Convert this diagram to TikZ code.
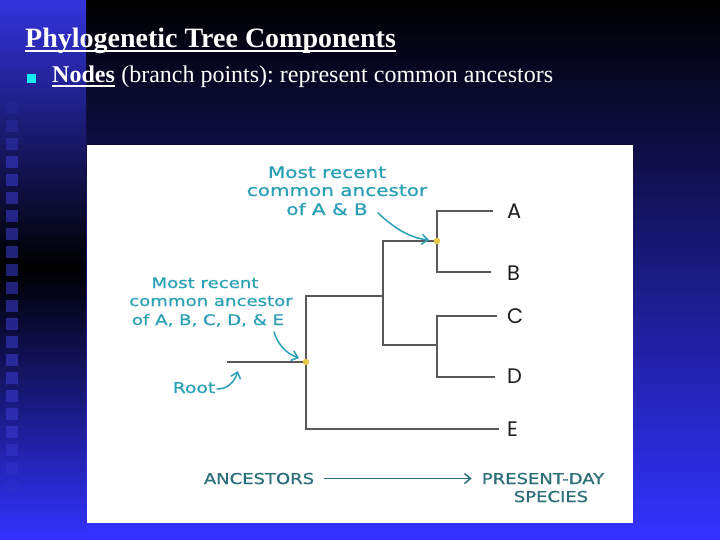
\documentclass[tikz,border=0pt]{standalone}
\usepackage{fontspec}
\setmainfont{Liberation Serif}
\newfontfamily\hand[FakeStretch=1.25,FakeBold=0.8]{DejaVu Sans}
\newfontfamily\handcaps[FakeStretch=1.2,FakeBold=0.8]{DejaVu Sans}
\newfontfamily\lab{Poppins}
\usetikzlibrary{arrows.meta,calc}
\definecolor{slidebot}{RGB}{51,51,255}
\definecolor{striptop}{RGB}{51,51,220}
\definecolor{sqcol}{RGB}{60,60,210}
\definecolor{bulletcyan}{RGB}{20,235,245}
\definecolor{branchgray}{RGB}{88,88,88}
\definecolor{dotyellow}{RGB}{230,200,70}
\definecolor{handteal}{RGB}{42,160,182}
\definecolor{darkteal}{RGB}{44,110,122}
\definecolor{labelink}{RGB}{30,30,30}
\tikzset{
  branch/.style={draw=branchgray, line width=2.4pt, line cap=rect},
  nodedot/.style={circle, fill=dotyellow, inner sep=0, minimum size=6.5pt},
  handtxt/.style={text=handteal, inner sep=0, anchor=base},
  handarrow/.style={draw=handteal, line width=1.5pt, line cap=round, -{Straight Barb[length=6pt,width=10pt]}},
  tiplabel/.style={text=labelink, inner sep=0, anchor=west, font=\lab\fontsize{21}{24}\selectfont},
  captxt/.style={text=darkteal, inner sep=0, anchor=base, font=\handcaps\fontsize{15}{18}\selectfont},
}
\frenchspacing
\begin{document}
\begin{tikzpicture}[x=1pt,y=-1pt]
\useasboundingbox (0,0) rectangle (720,540);
% background
\shade[top color=black, bottom color=slidebot] (0,0) rectangle (720,540);
\shade[top color=striptop, bottom color=black] (0,0) rectangle (86,268);
\shade[top color=black, bottom color=slidebot] (0,268) rectangle (86,540.5);
\foreach \k in {-3,...,18}{
  \pgfmathsetmacro\op{0.55*min(1,(\k+4)/4,(19-\k)/4)}
  \fill[sqcol, opacity=\op] (6,{156+18*\k}) rectangle +(12,12);
}
% white panel
\fill[white] (87,145) rectangle (633,523);
% title
\node[anchor=base west, inner sep=0, text=white, font=\bfseries\fontsize{28}{32}\selectfont] (title) at (25,48) {Phylogenetic Tree Components};
\draw[white, line width=1.6pt] ([yshift=-3pt]title.base west) -- ([yshift=-3pt]title.base east);
% bullet line
\node[fill=bulletcyan, minimum size=9pt, inner sep=0] (bul) at (31.5,78.5) {};
\node[anchor=base west, inner sep=0, text=white, font=\bfseries\fontsize{24}{28}\selectfont] (nodesw) at (52,83) {Nodes};
\draw[white, line width=1.3pt] ([yshift=-3pt]nodesw.base west) -- ([yshift=-3pt]nodesw.base east);
\node[anchor=base west, inner sep=0, text=white, font=\fontsize{24}{28}\selectfont] (rest) at (nodesw.base east) {\ (branch points): represent common ancestors};
% tree coordinates
\coordinate (root) at (228,362);
\coordinate (n0) at (306,362);
\coordinate (n0t) at (306,296);
\coordinate (n0b) at (306,429);
\coordinate (n1) at (383,296);
\coordinate (n1t) at (383,241);
\coordinate (n1b) at (383,345);
\coordinate (nAB) at (437,241);
\coordinate (nCD) at (437,345);
\coordinate (bA) at (437,211);
\coordinate (bB) at (437,272);
\coordinate (bC) at (437,316);
\coordinate (bD) at (437,377);
\coordinate (tA) at (492,211);
\coordinate (tB) at (490,272);
\coordinate (tC) at (496,316);
\coordinate (tD) at (494,377);
\coordinate (tE) at (498,429);
\draw[branch] (root) -- (n0);
\draw[branch] (n0t) -- (n0b);
\draw[branch] (n0t) -- (n1);
\draw[branch] (n1t) -- (n1b);
\draw[branch] (n1t) -- (nAB);
\draw[branch] (n1b) -- (nCD);
\draw[branch] (bA) -- (bB);
\draw[branch] (bC) -- (bD);
\draw[branch] (bA) -- (tA);
\draw[branch] (bB) -- (tB);
\draw[branch] (bC) -- (tC);
\draw[branch] (bD) -- (tD);
\draw[branch] (n0b) -- (tE);
\node[nodedot] (dotAB) at (nAB) {};
\node[nodedot] (dotAll) at (n0) {};
% tip labels
\node[tiplabel] (lA) at (507,211) {A};
\node[tiplabel] (lB) at (507,273) {B};
\node[tiplabel] (lC) at (507,316) {C};
\node[tiplabel] (lD) at (507,376) {D};
\node[tiplabel] (lE) at (507,429) {E};
% top annotation
\node[handtxt, font=\hand\fontsize{16}{18}\selectfont] (t1) at (327,178) {Most recent};
\node[handtxt, font=\hand\fontsize{16}{18}\selectfont] (t2) at (337,196) {common ancestor};
\node[handtxt, font=\hand\fontsize{16}{18}\selectfont] (t3) at (327,215) {of A \& B};
\coordinate (a1s) at (378,213);
\coordinate (a1e) at (429,240);
\draw[handarrow] (a1s) .. controls (394,228) and (410,238) .. (a1e);
% left annotation
\node[handtxt, font=\hand\fontsize{14.5}{17}\selectfont] (l1) at (205,288) {Most recent};
\node[handtxt, font=\hand\fontsize{14.5}{17}\selectfont] (l2) at (211,306) {common ancestor};
\node[handtxt, font=\hand\fontsize{14.5}{17}\selectfont] (l3) at (208,325) {of A, B, C, D, \& E};
\coordinate (a2s) at (274,332);
\coordinate (a2e) at (299,358);
\draw[handarrow] (a2s) .. controls (278,345) and (287,354) .. (a2e);
% root
\node[handtxt, font=\hand\fontsize{15}{17}\selectfont] (rt) at (194,393) {Root};
\coordinate (a3s) at (217,389);
\coordinate (a3e) at (238,371);
\draw[handarrow] (a3s) .. controls (227,389) and (234,383) .. (a3e);
% bottom axis
\node[captxt] (anc) at (259,484) {ANCESTORS};
\node[captxt] (pres) at (543,484) {PRESENT-DAY};
\node[captxt] (spec) at (551,502) {SPECIES};
\draw[darkteal, line width=1.5pt, -{Straight Barb[length=6pt,width=10pt]}, shorten <=10pt, shorten >=10pt] (anc.east) -- (anc.east -| pres.west);
\end{tikzpicture}
\end{document}
